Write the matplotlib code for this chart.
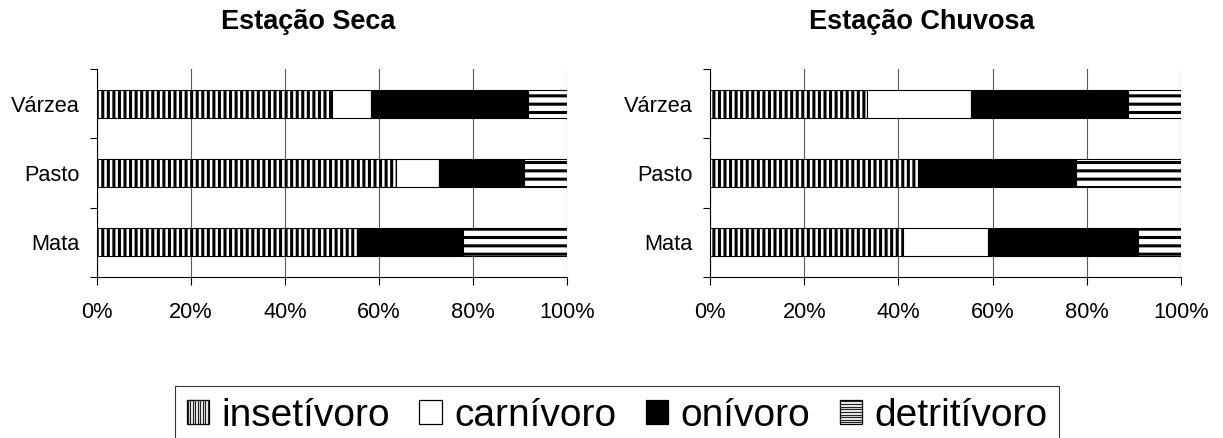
import matplotlib
matplotlib.use("Agg")
import matplotlib.pyplot as plt
from matplotlib.patches import Patch, Rectangle
from matplotlib.lines import Line2D
from matplotlib.ticker import FixedLocator, PercentFormatter

plt.rcParams['font.family'] = ['Liberation Sans', 'DejaVu Sans']
plt.rcParams['hatch.linewidth'] = 2.2

# ---- data ----
categories = ['Mata', 'Pasto', 'Várzea']          # bottom to top
guilds = ['insetívoro', 'carnívoro', 'onívoro', 'detritívoro']

seca_insetivoro = [55.6, 63.6, 50.0]
seca_carnivoro = [0.0, 9.1, 8.3]
seca_onivoro = [22.2, 18.2, 33.4]
seca_detritivoro = [22.2, 9.1, 8.3]

chuvosa_insetivoro = [40.9, 44.4, 33.3]
chuvosa_carnivoro = [18.2, 0.0, 22.2]
chuvosa_onivoro = [31.8, 33.3, 33.3]
chuvosa_detritivoro = [9.1, 22.2, 11.1]

titles = ['Estação Seca', 'Estação Chuvosa']
xticks = [0, 20, 40, 60, 80, 100]

# ---- styles ----
styles = [
    dict(facecolor='white', hatch='|||'),
    dict(facecolor='white', hatch=None),
    dict(facecolor='black', hatch=None),
    dict(facecolor='white', hatch='--'),
]
legend_stripes = ['v', None, None, 'h']


class StripeHandler:
    """Legend handle: bordered square filled with fine stripes."""

    def __init__(self, orient, facecolor, n=9):
        self.orient = orient
        self.facecolor = facecolor
        self.n = n

    def legend_artist(self, legend, orig_handle, fontsize, handlebox):
        x0, y0 = -handlebox.xdescent, -handlebox.ydescent
        w, h = handlebox.width, handlebox.height
        tr = handlebox.get_transform()
        rect = Rectangle((x0, y0), w, h, facecolor=self.facecolor,
                         edgecolor='black', linewidth=0.9, transform=tr)
        handlebox.add_artist(rect)
        if self.orient is not None:
            for k in range(self.n):
                f = (k + 0.5) / self.n
                if self.orient == 'v':
                    xs = [x0 + f * w, x0 + f * w]
                    ys = [y0, y0 + h]
                else:
                    xs = [x0, x0 + w]
                    ys = [y0 + f * h, y0 + f * h]
                handlebox.add_artist(Line2D(xs, ys, color='#222222',
                                            linewidth=0.9, transform=tr))
        return rect


W, H = 1223, 438
fig = plt.figure(figsize=(W / 100, H / 100), dpi=100)

ax_pos = [
    [97 / W, 1 - 277 / H, 470 / W, 208 / H],
    [710 / W, 1 - 277 / H, 471 / W, 208 / H],
]
title_x = [308 / W, 922 / W]

datasets = [
    [seca_insetivoro, seca_carnivoro, seca_onivoro, seca_detritivoro],
    [chuvosa_insetivoro, chuvosa_carnivoro, chuvosa_onivoro, chuvosa_detritivoro],
]

ypos = list(range(len(categories)))
for i, (pos, series) in enumerate(zip(ax_pos, datasets)):
    ax = fig.add_axes(pos)
    left = [0.0] * len(categories)
    for vals, st in zip(series, styles):
        ax.barh(ypos, vals, left=left, height=0.4, edgecolor='black',
                linewidth=0.8, zorder=3, **st)
        left = [l + v for l, v in zip(left, vals)]
    ax.set_xlim(0, 100)
    ax.set_ylim(-0.5, len(categories) - 0.5)
    ax.set_xticks(xticks)
    ax.xaxis.set_major_formatter(PercentFormatter(decimals=0))
    ax.set_yticks(ypos)
    ax.set_yticklabels(categories)
    ax.yaxis.set_minor_locator(FixedLocator([-0.5, 0.5, 1.5, 2.5]))
    ax.tick_params(axis='y', which='major', length=0, pad=12.2, labelsize=15.7)
    ax.tick_params(axis='y', which='minor', length=5, width=0.8, direction='out')
    ax.tick_params(axis='x', which='major', length=5.8, width=0.8, pad=12.2,
                   labelsize=15.7, direction='out')
    ax.grid(axis='x', color='#5a5a5a', linewidth=0.8, zorder=0)
    ax.set_axisbelow(True)
    ax.spines['top'].set_visible(False)
    ax.spines['right'].set_visible(False)
    for s in ('left', 'bottom'):
        ax.spines[s].set_linewidth(0.8)
    fig.text(title_x[i], 1 - 29 / H, titles[i], ha='center', va='baseline',
             fontsize=19.5, fontweight='bold')

handles = [Patch(label=g) for g in guilds]
handler_map = {
    h: StripeHandler(o, st['facecolor'])
    for h, o, st in zip(handles, legend_stripes, styles)
}

leg = fig.legend(handles=handles, handler_map=handler_map, loc='upper left',
                 bbox_to_anchor=(175 / W, 1 - 386 / H), borderaxespad=0,
                 ncol=4, fontsize=28, frameon=True, fancybox=False,
                 edgecolor='black', handlelength=0.57, handleheight=0.55,
                 handletextpad=0.33, columnspacing=0.75, borderpad=0.3)
leg.get_frame().set_linewidth(0.8)

fig.savefig('out.png', dpi=100)
